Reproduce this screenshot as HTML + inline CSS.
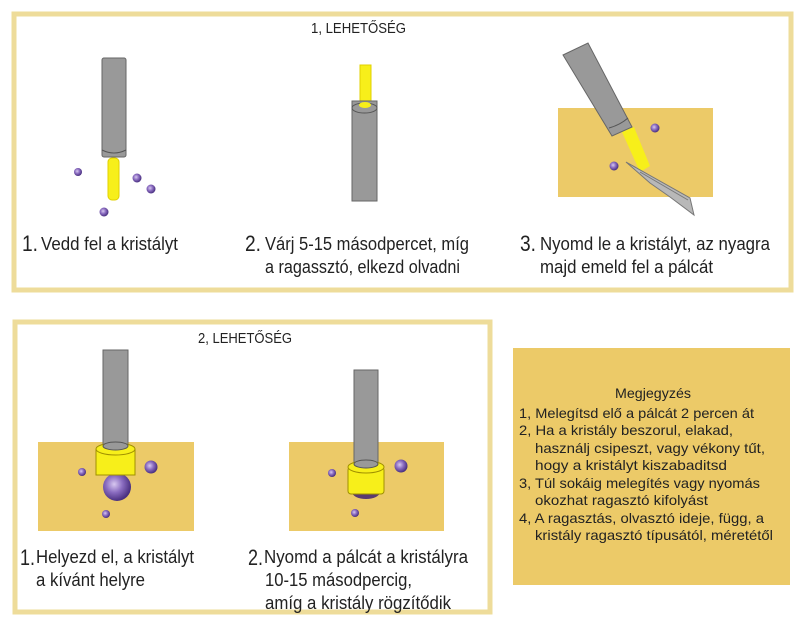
<!DOCTYPE html>
<html><head><meta charset="utf-8"><style>
body{margin:0;background:#fff;}
svg{display:block}
text{font-family:"Liberation Sans",sans-serif;fill:#222}
</style></head><body>
<svg width="802" height="626" viewBox="0 0 802 626" xmlns="http://www.w3.org/2000/svg">
<defs>
<radialGradient id="cr" cx="40%" cy="40%" r="60%"><stop offset="0" stop-color="#d8c8f0"/><stop offset="0.5" stop-color="#8a6cc0"/><stop offset="1" stop-color="#4a3080"/></radialGradient>
</defs>
<!-- top box -->
<rect x="14" y="14" width="777" height="276" fill="#fff" stroke="#eedc9a" stroke-width="5"/>
<text x="311" y="33" font-size="15" textLength="95" lengthAdjust="spacingAndGlyphs">1, LEHETŐSÉG</text>
<!-- panel 1 -->
<rect x="108" y="158" width="11" height="42" rx="4" fill="#f7ef1a" stroke="#e0d000"/>
<rect x="102" y="58" width="24" height="99" rx="2" fill="#999" stroke="#666"/>
<path d="M102 150 Q114 156 126 150" fill="none" stroke="#555"/>
<circle cx="78" cy="172" r="4" fill="url(#cr)"/>
<circle cx="137" cy="178" r="4.5" fill="url(#cr)"/>
<circle cx="151" cy="189" r="4.5" fill="url(#cr)"/>
<circle cx="104" cy="212" r="4.5" fill="url(#cr)"/>
<text x="22" y="251" font-size="22" textLength="16" lengthAdjust="spacingAndGlyphs">1.</text><text x="41" y="250" font-size="18" textLength="137" lengthAdjust="spacingAndGlyphs">Vedd fel a kristályt</text>
<!-- panel 2 -->
<rect x="360" y="65" width="11" height="42" fill="#f7ef1a" stroke="#e0d000"/>
<rect x="352" y="101" width="25" height="100" fill="#999" stroke="#666"/>
<ellipse cx="364.5" cy="108" rx="12.5" ry="5" fill="#999" stroke="#555"/>
<ellipse cx="365" cy="105" rx="6" ry="3" fill="#f7ef1a"/>
<text x="245" y="251" font-size="22" textLength="16" lengthAdjust="spacingAndGlyphs">2.</text><text x="265" y="250" font-size="18" textLength="204" lengthAdjust="spacingAndGlyphs">Várj 5-15 másodpercet, míg</text>
<text x="265" y="273" font-size="18" textLength="195" lengthAdjust="spacingAndGlyphs">a ragassztó, elkezd olvadni</text>
<!-- panel 3 -->
<rect x="558" y="108" width="155" height="89" fill="#ecca68"/>
<polygon points="622,132 634,127 650,166 640,172" fill="#f7ef1a"/>
<polygon points="563,55 588,43 632,127 612,136" fill="#999" stroke="#666"/>
<path d="M609 128 Q620 125 628 118" fill="none" stroke="#555"/>
<polygon points="626,162 690,198 694,215 670,197 650,183" fill="#b8b8b8" stroke="#777"/>
<line x1="640" y1="172" x2="688" y2="200" stroke="#777"/>
<circle cx="655" cy="128" r="4.5" fill="url(#cr)"/>
<circle cx="614" cy="166" r="4.5" fill="url(#cr)"/>
<text x="520" y="251" font-size="22" textLength="16" lengthAdjust="spacingAndGlyphs">3.</text><text x="540" y="250" font-size="18" textLength="230" lengthAdjust="spacingAndGlyphs">Nyomd le a kristályt, az nyagra</text>
<text x="540" y="273" font-size="18" textLength="173" lengthAdjust="spacingAndGlyphs">majd emeld fel a pálcát</text>
<!-- bottom box -->
<rect x="15" y="322" width="475" height="290" fill="#fff" stroke="#eedc9a" stroke-width="5"/>
<text x="198" y="343" font-size="15" textLength="94" lengthAdjust="spacingAndGlyphs">2, LEHETŐSÉG</text>
<!-- panel A -->
<rect x="38" y="442" width="156" height="89" fill="#ecca68"/>
<circle cx="117" cy="487" r="14" fill="url(#cr)"/>
<rect x="103" y="350" width="25" height="98" fill="#999" stroke="#666"/>
<rect x="96" y="449" width="39" height="26" fill="#f7ef1a" stroke="#a09000"/>
<ellipse cx="115.5" cy="449" rx="19.5" ry="6" fill="#f7ef1a" stroke="#a09000"/>
<ellipse cx="115.5" cy="446" rx="12.5" ry="4" fill="#999" stroke="#555"/>
<circle cx="82" cy="472" r="4" fill="url(#cr)"/>
<circle cx="151" cy="467" r="6.5" fill="url(#cr)"/>
<circle cx="106" cy="514" r="4" fill="url(#cr)"/>
<text x="20" y="565" font-size="22" textLength="15" lengthAdjust="spacingAndGlyphs">1.</text><text x="36" y="563" font-size="18" textLength="158" lengthAdjust="spacingAndGlyphs">Helyezd el, a kristályt</text>
<text x="36" y="586" font-size="18" textLength="109" lengthAdjust="spacingAndGlyphs">a kívánt helyre</text>
<!-- panel B -->
<rect x="289" y="442" width="155" height="89" fill="#ecca68"/>
<ellipse cx="366" cy="492" rx="14" ry="7" fill="#5a3a70"/>
<rect x="354" y="370" width="24" height="97" fill="#999" stroke="#666"/>
<rect x="348" y="467" width="36" height="27" rx="3" fill="#f7ef1a" stroke="#a09000"/>
<ellipse cx="366" cy="467" rx="18" ry="6" fill="#f7ef1a" stroke="#a09000"/>
<ellipse cx="366" cy="464" rx="12" ry="4" fill="#999" stroke="#555"/>
<circle cx="332" cy="473" r="4" fill="url(#cr)"/>
<circle cx="401" cy="466" r="6.5" fill="url(#cr)"/>
<circle cx="355" cy="513" r="4" fill="url(#cr)"/>
<text x="248" y="565" font-size="22" textLength="15" lengthAdjust="spacingAndGlyphs">2.</text><text x="264" y="563" font-size="18" textLength="204" lengthAdjust="spacingAndGlyphs">Nyomd a pálcát a kristályra</text>
<text x="265" y="586" font-size="18" textLength="147" lengthAdjust="spacingAndGlyphs">10-15 másodpercig,</text>
<text x="265" y="609" font-size="18" textLength="186" lengthAdjust="spacingAndGlyphs">amíg a kristály rögzítődik</text>
<!-- note -->
<rect x="513" y="348" width="277" height="237" fill="#ecca68"/>
<g font-size="14">
<text x="615" y="398" textLength="76" lengthAdjust="spacingAndGlyphs">Megjegyzés</text>
<text x="519" y="418" textLength="235" lengthAdjust="spacingAndGlyphs">1, Melegítsd elő a pálcát 2 percen át</text>
<text x="519" y="435" textLength="214" lengthAdjust="spacingAndGlyphs">2, Ha a kristály beszorul, elakad,</text>
<text x="535" y="453" textLength="230" lengthAdjust="spacingAndGlyphs">használj csipeszt, vagy vékony tűt,</text>
<text x="535" y="470" textLength="192" lengthAdjust="spacingAndGlyphs">hogy a kristályt  kiszabaditsd</text>
<text x="519" y="488" textLength="241" lengthAdjust="spacingAndGlyphs">3, Túl sokáig melegítés vagy nyomás</text>
<text x="535" y="505" textLength="173" lengthAdjust="spacingAndGlyphs">okozhat ragasztó kifolyást</text>
<text x="519" y="523" textLength="245" lengthAdjust="spacingAndGlyphs">4, A ragasztás, olvasztó ideje, függ, a</text>
<text x="535" y="540" textLength="238" lengthAdjust="spacingAndGlyphs">kristály ragasztó típusától, méretétől</text>
</g>
</svg>
</body></html>
